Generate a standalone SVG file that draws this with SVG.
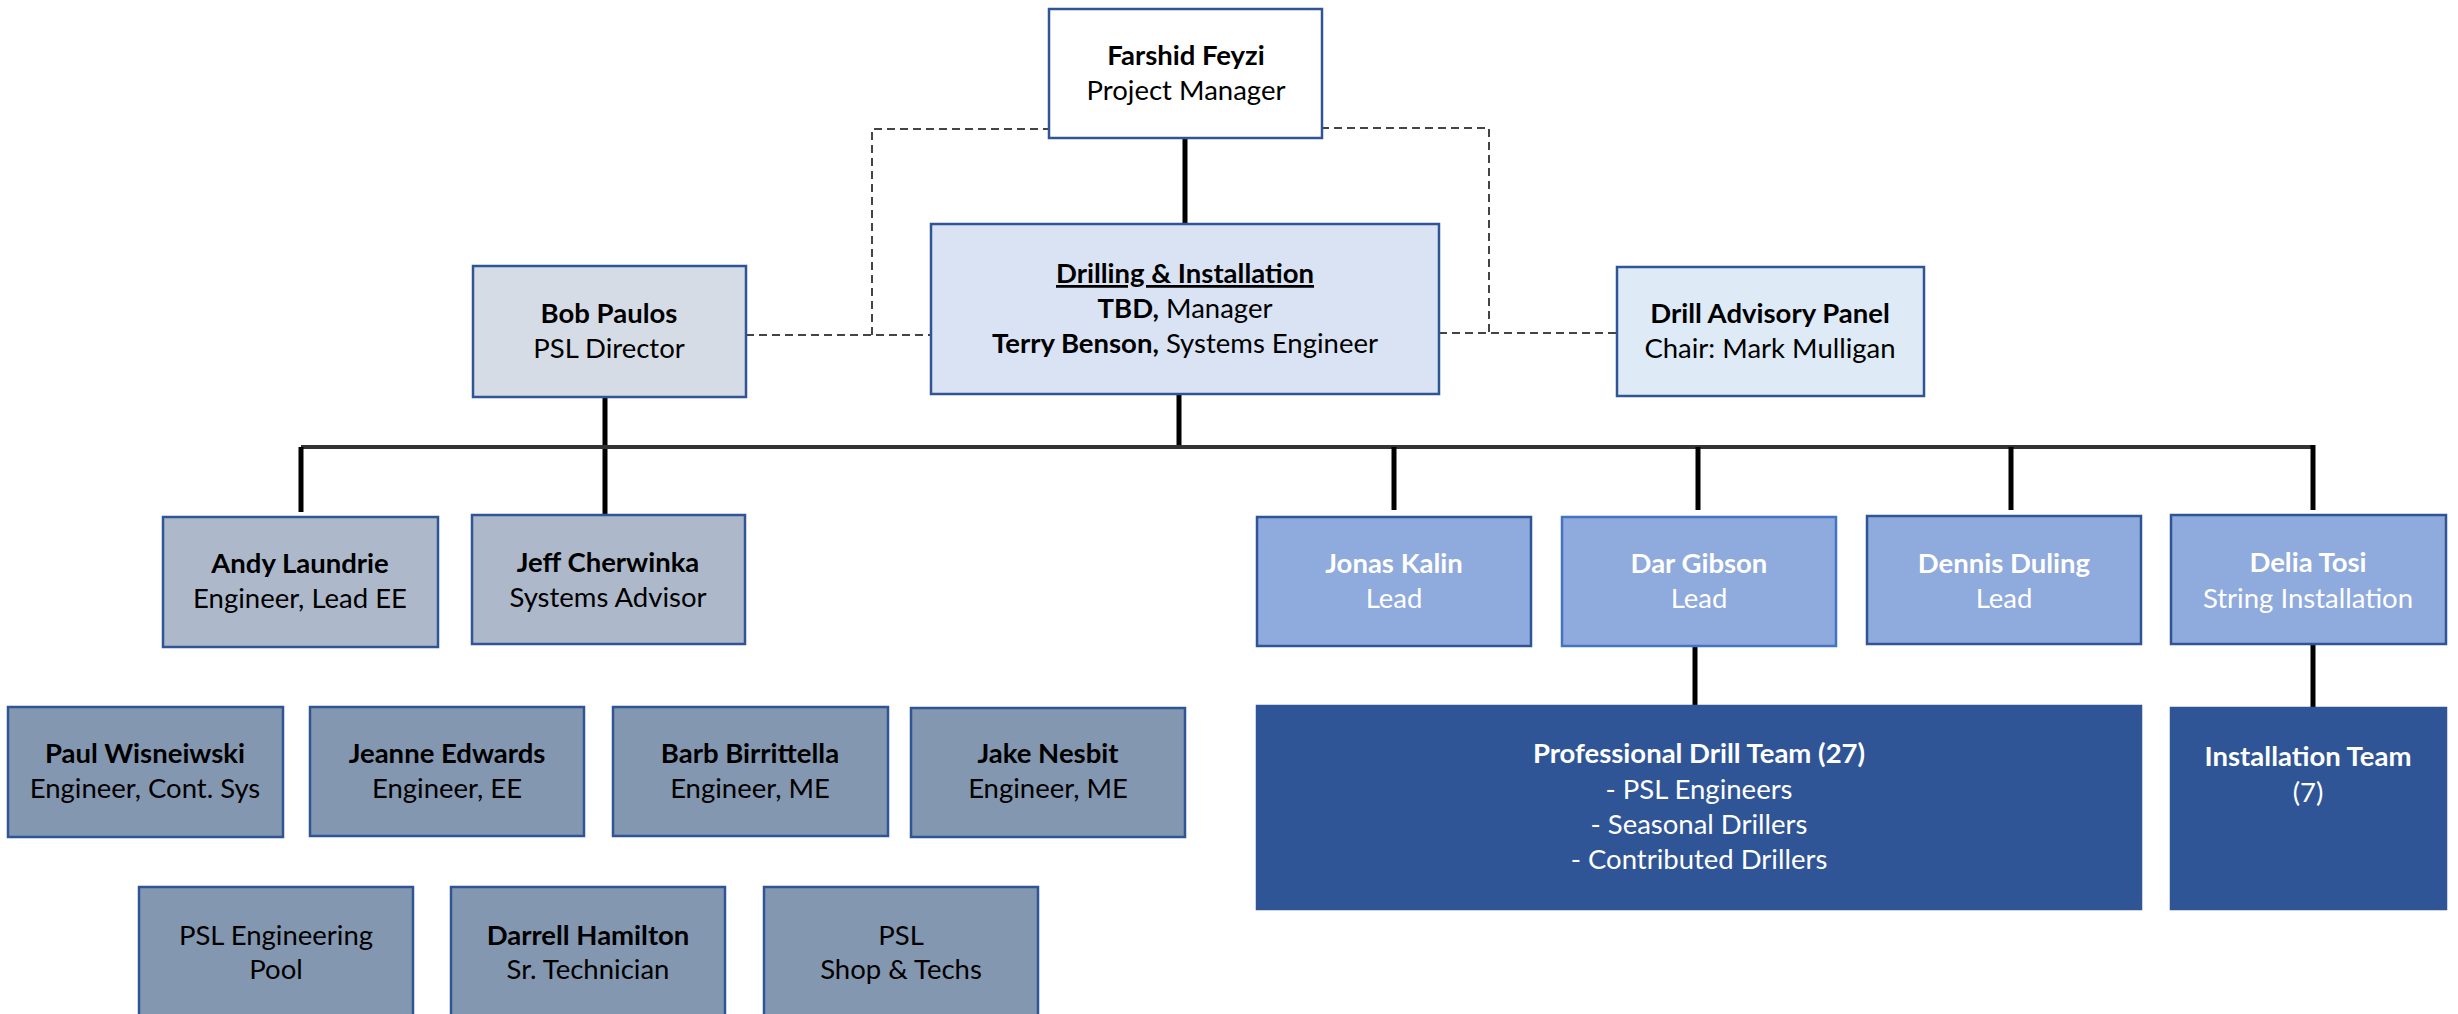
<svg xmlns="http://www.w3.org/2000/svg" width="2458" height="1014" viewBox="0 0 2458 1014">
<style>
  text { font-family: Lato, "Liberation Sans", sans-serif; font-size: 27.5px; text-anchor: middle; fill: #000; }
  .b { font-weight: bold; }
  .w { fill: #fff; }
  .box { stroke: #2F5597; stroke-width: 2.5; }
  .white { fill: #fff; }
  .drill { fill: #DAE3F3; }
  .dir { fill: #D6DCE5; }
  .adv { fill: #DEEBF7; }
  .mid { fill: #ADB9CA; }
  .eng { fill: #8497B0; }
  .lead { fill: #8FAADC; }
  .team { fill: #2F5597; }
  .solid { stroke: #000; stroke-width: 5; fill: none; }
  .bar { stroke: #333; stroke-width: 4; fill: none; }
  .dash { stroke: #444; stroke-width: 2; stroke-dasharray: 8 5; fill: none; }
</style>
<g id="connectors">
  <line class="solid" x1="1185" y1="138" x2="1185" y2="224"/>
  <line class="solid" x1="1179" y1="394" x2="1179" y2="447"/>
  <line class="solid" x1="605" y1="397" x2="605" y2="515"/>
  <line class="bar" x1="301" y1="447" x2="2313" y2="447"/>
  <line class="solid" x1="301" y1="447" x2="301" y2="512"/>
  <line class="solid" x1="1394" y1="447" x2="1394" y2="510"/>
  <line class="solid" x1="1698" y1="447" x2="1698" y2="510"/>
  <line class="solid" x1="2011" y1="447" x2="2011" y2="510"/>
  <line class="solid" x1="2313" y1="445" x2="2313" y2="510"/>
  <line class="solid" x1="1695" y1="646" x2="1695" y2="706"/>
  <line class="solid" x1="2313" y1="644" x2="2313" y2="708"/>
  <path class="dash" d="M746 335 H931 M872 335 V129 H1049"/>
  <path class="dash" d="M1321 128 H1489 V333 M1439 333 H1617"/>
</g>
<g id="farshid">
  <rect class="box white" x="1049" y="9" width="273" height="129"/>
  <text class="b" x="1186" y="65">Farshid Feyzi</text>
  <text x="1186" y="100">Project Manager</text>
</g>
<g id="drilling">
  <rect class="box drill" x="931" y="224" width="508" height="170"/>
  <text class="b" x="1185" y="283" text-decoration="underline">Drilling &amp; Installation</text>
  <text x="1185" y="318"><tspan class="b">TBD,</tspan> Manager</text>
  <text x="1185" y="353"><tspan class="b">Terry Benson,</tspan> Systems Engineer</text>
</g>
<g id="bob">
  <rect class="box dir" x="473" y="266" width="273" height="131"/>
  <text class="b" x="609" y="323">Bob Paulos</text>
  <text x="609" y="358">PSL Director</text>
</g>
<g id="advisory">
  <rect class="box adv" x="1617" y="267" width="307" height="129"/>
  <text class="b" x="1770" y="323">Drill Advisory Panel</text>
  <text x="1770" y="358">Chair: Mark Mulligan</text>
</g>
<g id="andy">
  <rect class="box mid" x="163" y="517" width="275" height="130"/>
  <text class="b" x="300" y="573">Andy Laundrie</text>
  <text x="300" y="608">Engineer, Lead EE</text>
</g>
<g id="jeff">
  <rect class="box mid" x="472" y="515" width="273" height="129"/>
  <text class="b" x="608" y="572">Jeff Cherwinka</text>
  <text x="608" y="607">Systems Advisor</text>
</g>
<g id="jonas">
  <rect class="box lead" x="1257" y="517" width="274" height="129"/>
  <text class="b w" x="1394" y="573">Jonas Kalin</text>
  <text class="w" x="1394" y="608">Lead</text>
</g>
<g id="dar">
  <rect class="box lead" x="1562" y="517" width="274" height="129" style="stroke:#4472C4"/>
  <text class="b w" x="1699" y="573">Dar Gibson</text>
  <text class="w" x="1699" y="608">Lead</text>
</g>
<g id="dennis">
  <rect class="box lead" x="1867" y="516" width="274" height="128"/>
  <text class="b w" x="2004" y="573">Dennis Duling</text>
  <text class="w" x="2004" y="608">Lead</text>
</g>
<g id="delia">
  <rect class="box lead" x="2171" y="515" width="275" height="129"/>
  <text class="b w" x="2308" y="572">Delia Tosi</text>
  <text class="w" x="2308" y="608">String Installation</text>
</g>
<g id="paul">
  <rect class="box eng" x="8" y="707" width="275" height="130"/>
  <text class="b" x="145" y="763">Paul Wisneiwski</text>
  <text x="145" y="798">Engineer, Cont. Sys</text>
</g>
<g id="jeanne">
  <rect class="box eng" x="310" y="707" width="274" height="129"/>
  <text class="b" x="447" y="763">Jeanne Edwards</text>
  <text x="447" y="798">Engineer, EE</text>
</g>
<g id="barb">
  <rect class="box eng" x="613" y="707" width="275" height="129"/>
  <text class="b" x="750" y="763">Barb Birrittella</text>
  <text x="750" y="798">Engineer, ME</text>
</g>
<g id="jake">
  <rect class="box eng" x="911" y="708" width="274" height="129"/>
  <text class="b" x="1048" y="763">Jake Nesbit</text>
  <text x="1048" y="798">Engineer, ME</text>
</g>
<g id="pool">
  <rect class="box eng" x="139" y="887" width="274" height="132"/>
  <text x="276" y="945">PSL Engineering</text>
  <text x="276" y="979">Pool</text>
</g>
<g id="darrell">
  <rect class="box eng" x="451" y="887" width="274" height="132"/>
  <text class="b" x="588" y="945">Darrell Hamilton</text>
  <text x="588" y="979">Sr. Technician</text>
</g>
<g id="shop">
  <rect class="box eng" x="764" y="887" width="274" height="132"/>
  <text x="901" y="945">PSL</text>
  <text x="901" y="979">Shop &amp; Techs</text>
</g>
<g id="drillteam">
  <rect class="box team" x="1257" y="706" width="884" height="203"/>
  <text class="b w" x="1699" y="763">Professional Drill Team (27)</text>
  <text class="w" x="1699" y="799">- PSL Engineers</text>
  <text class="w" x="1699" y="834">- Seasonal Drillers</text>
  <text class="w" x="1699" y="869">- Contributed Drillers</text>
</g>
<g id="installteam">
  <rect class="box team" x="2171" y="708" width="275" height="201"/>
  <text class="b w" x="2308" y="766">Installation Team</text>
  <text class="w" x="2308" y="802">(7)</text>
</g>
</svg>
